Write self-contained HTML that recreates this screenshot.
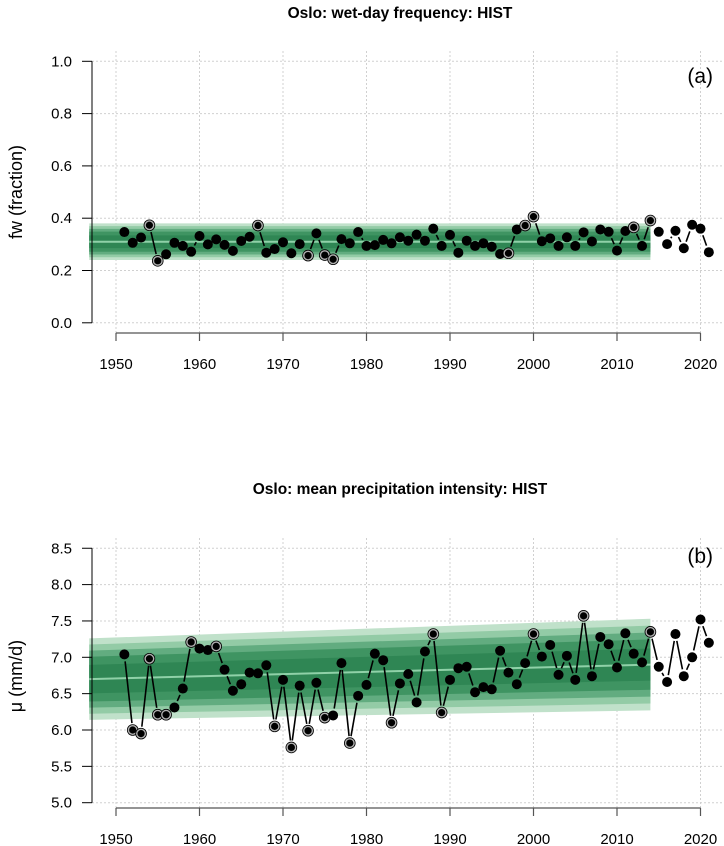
<!DOCTYPE html>
<html><head><meta charset="utf-8"><style>
body{margin:0;background:#fff;}
svg{display:block;font-family:"Liberation Sans",sans-serif;}
</style></head><body>
<svg id="chart" width="724" height="846" xmlns="http://www.w3.org/2000/svg"></svg>
<script>
const years = [];
for (let y = 1951; y <= 2021; y++) years.push(y);
const fwValues = [0.347,0.306,0.326,0.373,0.237,0.262,0.306,0.294,0.272,0.332,0.300,0.319,0.298,0.275,0.313,0.329,0.372,0.268,0.282,0.308,0.266,0.301,0.257,0.342,0.259,0.243,0.320,0.304,0.347,0.294,0.297,0.317,0.304,0.327,0.314,0.337,0.314,0.360,0.294,0.336,0.268,0.314,0.294,0.304,0.291,0.263,0.266,0.357,0.372,0.406,0.312,0.323,0.294,0.327,0.294,0.346,0.311,0.357,0.348,0.276,0.351,0.365,0.294,0.391,0.348,0.301,0.352,0.285,0.375,0.360,0.270];
const fwOutlierYears = [1954,1955,1967,1973,1975,1976,1997,1999,2000,2012,2014];
const muValues = [7.04,6.00,5.95,6.98,6.21,6.21,6.31,6.57,7.21,7.12,7.10,7.15,6.83,6.54,6.63,6.79,6.78,6.89,6.05,6.69,5.76,6.61,5.99,6.65,6.17,6.20,6.92,5.82,6.47,6.62,7.05,6.96,6.10,6.64,6.77,6.38,7.08,7.32,6.24,6.69,6.85,6.87,6.52,6.59,6.56,7.09,6.79,6.63,6.92,7.32,7.01,7.17,6.76,7.02,6.69,7.57,6.74,7.28,7.18,6.86,7.33,7.05,6.93,7.35,6.87,6.66,7.32,6.74,7.00,7.52,7.20];
const muOutlierYears = [1952,1953,1954,1955,1956,1959,1962,1969,1971,1973,1975,1978,1983,1988,1989,2000,2006,2014];
const xTicks = [1950,1960,1970,1980,1990,2000,2010,2020];
const fwTicks = [0.0,0.2,0.4,0.6,0.8,1.0];
const muTicks = [5.0,5.5,6.0,6.5,7.0,7.5,8.0,8.5];
// band: [startYear, endYear], center and half width at start/end
const fwBand = {y0:1946.8, y1:2014, c0:0.31, c1:0.31, w0:0.07, w1:0.07};
const muBand = {y0:1946.8, y1:2014, c0:6.70, c1:6.90, w0:0.56, w1:0.63};

const NS = "http://www.w3.org/2000/svg";
const svg = document.getElementById('chart');
function el(tag, attrs, parent) {
  const e = document.createElementNS(NS, tag);
  for (const k in attrs) e.setAttribute(k, attrs[k]);
  (parent || svg).appendChild(e);
  return e;
}
const xScale = yr => 116 + (yr - 1950) * 8.35;

function panel(cfg) {
  const g = el('g', {});
  
  
  const yScale = v => cfg.yBase - (v - cfg.vMin) * cfg.pxPer;
  // grid
  const grid = el('g', {stroke:'#d0d0d0','stroke-width':1,'stroke-dasharray':'2,2'}, g);
  
  
  xTicks.forEach(t => el('line', {x1:xScale(t), x2:xScale(t), y1:cfg.top, y2:cfg.bottom}, grid));
  cfg.ticks.forEach(t => el('line', {x1:92, x2:722, y1:yScale(t), y2:yScale(t)}, grid));
  // band
  const b = cfg.band;
  const layers = [[1.0,'#c0e1ca'],[0.85,'#93cba6'],[0.7,'#62ac80'],[0.55,'#3f9462'],[0.35,'#2f8654']];
  const bandG = el('g', {}, g);
  
  
  layers.forEach(([f, col]) => {
    const xa = xScale(b.y0), xb = xScale(b.y1);
    const pts = [[xa, yScale(b.c0 + b.w0*f)], [xb, yScale(b.c1 + b.w1*f)], [xb, yScale(b.c1 - b.w1*f)], [xa, yScale(b.c0 - b.w0*f)]];
    el('polygon', {points: pts.map(p => p.join(',')).join(' '), fill: col}, bandG);
  });
  const cl = el('line', {x1:xScale(b.y0), x2:xScale(b.y1), y1:yScale(b.c0), y2:yScale(b.c1), stroke:'#8fd1a8','stroke-width':2}, g);
  
  
  // connecting segments with gaps
  const segG = el('g', {stroke:'#000','stroke-width':1.6}, g);
  
  
  for (let i = 0; i < years.length - 1; i++) {
    const x1 = xScale(years[i]), y1 = yScale(cfg.values[i]);
    const x2 = xScale(years[i+1]), y2 = yScale(cfg.values[i+1]);
    const d = Math.hypot(x2-x1, y2-y1), gap = 7;
    if (d > 2*gap + 1) {
      const ux = (x2-x1)/d, uy = (y2-y1)/d;
      el('line', {x1:x1+ux*gap, y1:y1+uy*gap, x2:x2-ux*gap, y2:y2-uy*gap}, segG);
    }
  }
  // points
  const ptG = el('g', {}, g);
  
  
  years.forEach((yr, i) => {
    const cx = xScale(yr), cy = yScale(cfg.values[i]);
    if (cfg.outliers.includes(yr)) {
      el('circle', {cx, cy, r:5.8, fill:'#000'}, ptG);
      el('circle', {cx, cy, r:4.3, fill:'#000', stroke:'#b0b0b0','stroke-width':1.4}, ptG);
    } else {
      el('circle', {cx, cy, r:5, fill:'#000'}, ptG);
    }
  });
  // y axis
  const ya = el('g', {stroke:'#000','stroke-width':1}, g);
  
  
  el('line', {x1:92, x2:92, y1:yScale(cfg.ticks[0]), y2:yScale(cfg.ticks[cfg.ticks.length-1])}, ya);
  cfg.ticks.forEach(t => {
    el('line', {x1:82, x2:92, y1:yScale(t), y2:yScale(t)}, ya);
    const tx = el('text', {x:72, y:yScale(t)+5, 'text-anchor':'end', 'font-size':15, fill:'#000', stroke:'none'}, g);
    tx.textContent = t.toFixed(1);
  });
  // x axis
  const xa = el('g', {stroke:'#555','stroke-width':1.2}, g);
  
  
  el('line', {x1:xScale(1950), x2:xScale(2020), y1:cfg.xAxisY, y2:cfg.xAxisY}, xa);
  xTicks.forEach(t => {
    el('line', {x1:xScale(t), x2:xScale(t), y1:cfg.xAxisY, y2:cfg.xAxisY+8}, xa);
    const tx = el('text', {x:xScale(t), y:cfg.xAxisY+36, 'text-anchor':'middle', 'font-size':15, fill:'#000'}, g);
    tx.textContent = t;
  });
  // title
  const ti = el('text', {x:400, y:cfg.titleY, 'text-anchor':'middle', 'font-size':15.5, 'font-weight':'bold', fill:'#000'}, g);
  
  
  ti.textContent = cfg.title;
  const yl = el('text', {x:0, y:0, 'text-anchor':'middle', 'font-size':18, fill:'#000', transform:`translate(22,${cfg.ylabelY}) rotate(-90)`}, g);
  
  
  yl.textContent = cfg.ylabel;
  const pl = el('text', {x:713, y:cfg.tagY, 'text-anchor':'end', 'font-size':21, fill:'#000'}, g);
  
  
  pl.textContent = cfg.tag;
}

panel({name:'panel-a', values:fwValues, outliers:fwOutlierYears, ticks:fwTicks, vMin:0, yBase:322.8, pxPer:261.5,
  top:51, bottom:334, xAxisY:333, band:fwBand, title:'Oslo: wet-day frequency: HIST', titleY:18,
  ylabel:'fw  (fraction)', ylabelY:192, tag:'(a)', tagY:83});
panel({name:'panel-b', values:muValues, outliers:muOutlierYears, ticks:muTicks, vMin:5, yBase:802.7, pxPer:72.7,
  top:538, bottom:809, xAxisY:808, band:muBand, title:'Oslo: mean precipitation intensity: HIST', titleY:494,
  ylabel:'μ  (mm/d)', ylabelY:676, tag:'(b)', tagY:563});
</script>
</body></html>
